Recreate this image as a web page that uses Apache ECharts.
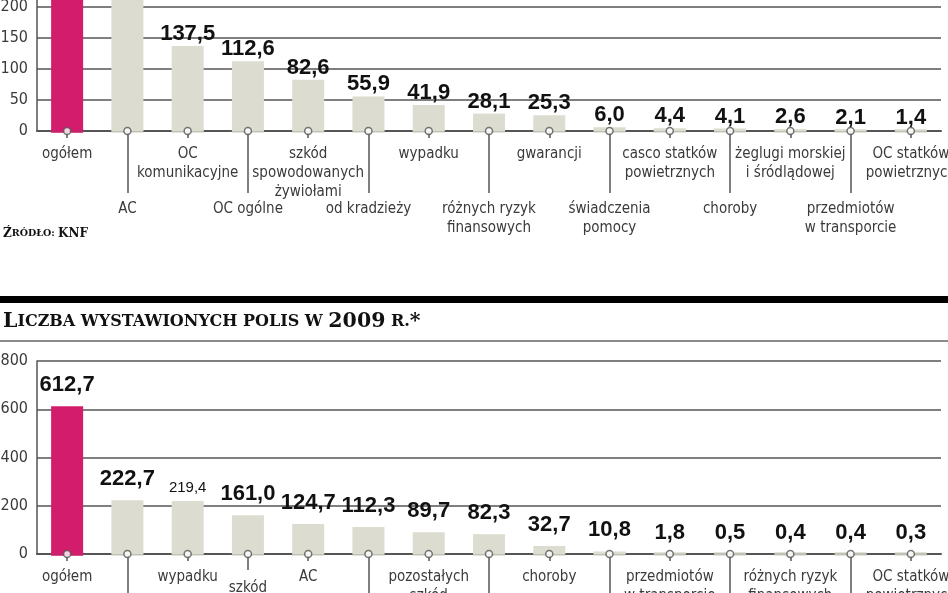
<!DOCTYPE html>
<html><head><meta charset="utf-8">
<script src="https://cdn.jsdelivr.net/npm/echarts@6/dist/echarts.min.js"></script>
<style>html,body{margin:0;padding:0;background:#fff;overflow:hidden}#c{width:948px;height:593px}</style>
</head><body><div id="c"></div>
<script>
// ---- data ----
const topCategories = ['ogółem','AC','OC\nkomunikacyjne','OC ogólne','szkód\nspowodowanych\nżywiołami','od kradzieży','wypadku','różnych ryzyk\nfinansowych','gwarancji','świadczenia\npomocy','casco statków\npowietrznych','choroby','żeglugi morskiej\ni śródlądowej','przedmiotów\nw transporcie','OC statków\npowietrznych'];
const topValues = [290.0, 230.0, 137.5, 112.6, 82.6, 55.9, 41.9, 28.1, 25.3, 6.0, 4.4, 4.1, 2.6, 2.1, 1.4];
const topYMax = 300, topYInterval = 50;

const bottomCategories = ['ogółem','OC\nkomunikacyjne','wypadku','szkód\nspowodowanych\nżywiołami','AC','OC ogólne','pozostałych\nszkód\nrzeczowych','od kradzieży','choroby','świadczenia\npomocy','przedmiotów\nw transporcie','gwarancji','różnych ryzyk\nfinansowych','żeglugi morskiej\ni śródlądowej','OC statków\npowietrznych'];
const bottomValues = [612.7, 222.7, 219.4, 161.0, 124.7, 112.3, 89.7, 82.3, 32.7, 10.8, 1.8, 0.5, 0.4, 0.4, 0.3];
const bottomYMax = 800, bottomYInterval = 200;

// label tiers (0 = next to axis, 1 = middle, 2 = far, with long leader tick)
const labelTierTop    = [0,2,0,2,0,2,0,2,0,2,0,2,0,2,0];
const labelTierBottom = [0,2,0,1,0,2,0,2,0,2,0,2,0,2,0];

// ---- styles ----
const MAGENTA = '#d41c6c', GRAY = '#dcdcd0', LINE = '#555';
const CONDENSED = "'Liberation Sans Narrow','DejaVu Sans Condensed','Roboto Condensed','Arial Narrow',Roboto,sans-serif";
const tierDefs = [{tick:7, margin:13.5}, {tick:16, margin:24.5}, {tick:62, margin:68.5}];
const catFont = {fontFamily:CONDENSED, fontSize:15, lineHeight:19, color:'#3a3a3a'};
const fmt = v => v.toFixed(1).replace('.', ',');

function xAxes(gridIndex, cats, tiers) {
  return tierDefs.map((t, k) => ({
    type:'category', gridIndex, data:cats, position:'bottom',
    axisLine:{show:k===0, onZero:true, lineStyle:{color:LINE, width:2}},
    axisTick:{show:true, alignWithLabel:true, length:t.tick, interval:(i)=>tiers[i]===k, lineStyle:{color:LINE, width:1.5}},
    axisLabel:Object.assign({interval:(i)=>tiers[i]===k, margin:t.margin, align:'center', hideOverlap:false}, catFont),
    splitLine:{show:false}
  }));
}
function yAxis(gridIndex, max, interval) {
  return {
    type:'value', gridIndex, min:0, max, interval,
    axisLine:{show:true, lineStyle:{color:LINE, width:1.5}},
    axisTick:{show:false},
    splitLine:{show:true, lineStyle:{color:LINE, width:1.5}},
    axisLabel:{margin:9, fontFamily:CONDENSED, fontSize:16, color:'#3a3a3a'}
  };
}
function barSeries(xi, yi, values, dist, special) {
  return {
    type:'bar', xAxisIndex:xi, yAxisIndex:yi, barWidth:32, z:2,
    data: values.map((v,i)=>{
      const d = {value:v, itemStyle:{color:i===0?MAGENTA:GRAY}};
      if (special && special[i]) d.label = special[i];
      return d;
    }),
    label:{show:true, position:'top', distance:dist, formatter:p=>fmt(p.value),
      fontFamily:'Liberation Sans', fontWeight:'bold', fontSize:22, color:'#111'}
  };
}
function baseMarks(xi, yi, values) {
  return [{
    type:'scatter', xAxisIndex:xi, yAxisIndex:yi, z:3, silent:true,
    symbol:'rect', symbolSize:[32,4],
    data: values.map((v,i)=>({value:0, itemStyle:{color:i===0?MAGENTA:GRAY}}))
  },{
    type:'scatter', xAxisIndex:xi, yAxisIndex:yi, z:4, silent:true,
    symbol:'circle', symbolSize:7,
    itemStyle:{color:'#fff', borderColor:LINE, borderWidth:1.5},
    data: values.map(()=>0)
  }];
}

// top chart geometry: zero line at y=131, 0.619 px per unit (upper part is cropped)
const topH = 0.619 * topYMax;
const topGridTop = 131 - topH;

const chart = echarts.init(document.getElementById('c'), null, {renderer:'canvas'});
chart.setOption({
  animation:false,
  backgroundColor:'#fff',
  grid:[
    {left:37, right:7, top:topGridTop, height:topH, containLabel:false, outerBoundsMode:'none'},
    {left:37, right:7, top:361, height:193, containLabel:false, outerBoundsMode:'none'}
  ],
  xAxis:[...xAxes(0, topCategories, labelTierTop), ...xAxes(1, bottomCategories, labelTierBottom)],
  yAxis:[yAxis(0, topYMax, topYInterval), yAxis(1, bottomYMax, bottomYInterval)],
  series:[
    barSeries(0, 0, topValues, 1),
    ...baseMarks(0, 0, topValues),
    barSeries(3, 1, bottomValues, 10, {2:{fontSize:15, fontWeight:'normal', distance:6}}),
    ...baseMarks(3, 1, bottomValues)
  ],
  graphic:[
    {type:'text', left:3, top:228, style:{
      text:'{a|Ź}{b|RÓDŁO: }{a|KNF}',
      rich:{a:{fontFamily:'DejaVu Serif', fontWeight:'bold', fontSize:12, fill:'#111'},
            b:{fontFamily:'DejaVu Serif', fontWeight:'bold', fontSize:9.5, fill:'#111'}}}},
    {type:'rect', shape:{x:0, y:296, width:948, height:7}, style:{fill:'#000'}},
    {type:'rect', shape:{x:0, y:340, width:948, height:2}, style:{fill:'#8a8a8a'}},
    {type:'text', left:3, top:311, style:{
      text:'{a|L}{b|ICZBA WYSTAWIONYCH POLIS W }{a|2009}{b| R.}{a|*}',
      rich:{a:{fontFamily:'DejaVu Serif', fontWeight:'bold', fontSize:20.5, fill:'#111'},
            b:{fontFamily:'DejaVu Serif', fontWeight:'bold', fontSize:16, fill:'#111'}}}}
  ]
});
</script></body></html>
